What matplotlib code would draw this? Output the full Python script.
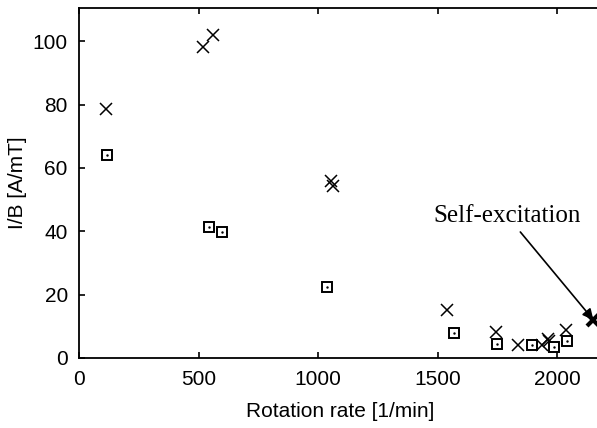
import matplotlib
matplotlib.use("Agg")
import matplotlib.pyplot as plt

plt.rcParams["font.family"] = ["Liberation Sans", "DejaVu Sans"]

# measurement series: crosses and boxes
cross_rate = [112, 519, 562, 1055, 1062, 1538, 1745, 1838, 1936, 1960, 1966, 2038]
cross_ib = [78.6, 98.1, 102.1, 56.0, 54.3, 15.2, 8.3, 4.1, 4.1, 5.9, 5.5, 8.8]

box_rate = [118, 545, 597, 1036, 1569, 1750, 1894, 1987, 2043]
box_ib = [64.0, 41.3, 39.9, 22.3, 8.0, 4.5, 4.1, 3.6, 5.4]

# onset of self-excitation
self_rate = [2152]
self_ib = [12.0]

fig = plt.figure(figsize=(5.97, 4.28), dpi=100)
ax = fig.add_axes([0.1323, 0.1636, 0.8677, 0.8178])

ax.plot(cross_rate, cross_ib, linestyle="none", marker="x", ms=8.5, mew=1.1,
        color="black", clip_on=False)
ax.plot(box_rate, box_ib, linestyle="none", marker="s", ms=7.5, mew=1.4,
        mfc="white", mec="black", clip_on=False)
ax.plot(box_rate, box_ib, linestyle="none", marker=".", ms=1.5, color="black")
ax.plot(self_rate, self_ib, linestyle="none", marker="x", ms=8.5, mew=3.0,
        color="black", clip_on=False)

ax.annotate("Self-excitation", xy=(self_rate[0], self_ib[0]), xytext=(1791, 44.8),
            ha="center", va="center", fontsize=18, family="Liberation Serif",
            arrowprops=dict(arrowstyle="-|>", color="black", lw=1.2,
                            mutation_scale=16, shrinkA=2, shrinkB=0))

ax.set_xlim(0, 2167)
ax.set_ylim(0, 110.5)
ax.set_xticks([0, 500, 1000, 1500, 2000])
ax.set_yticks([0, 20, 40, 60, 80, 100])

ax.spines["right"].set_visible(False)
for s in ["left", "bottom", "top"]:
    ax.spines[s].set_linewidth(1.3)

ax.tick_params(axis="x", direction="in", length=4, width=1.2, top=True,
               labelsize=15, pad=9)
ax.tick_params(axis="y", direction="in", length=4, width=1.2, right=False,
               labelsize=15, pad=8)

ax.set_xlabel("Rotation rate [1/min]", fontsize=15)
ax.set_ylabel("I/B [A/mT]", fontsize=15)
ax.xaxis.set_label_coords(0.505, -0.125)
ax.yaxis.set_label_coords(-0.1, 0.5)

fig.savefig("out.png", dpi=100)
